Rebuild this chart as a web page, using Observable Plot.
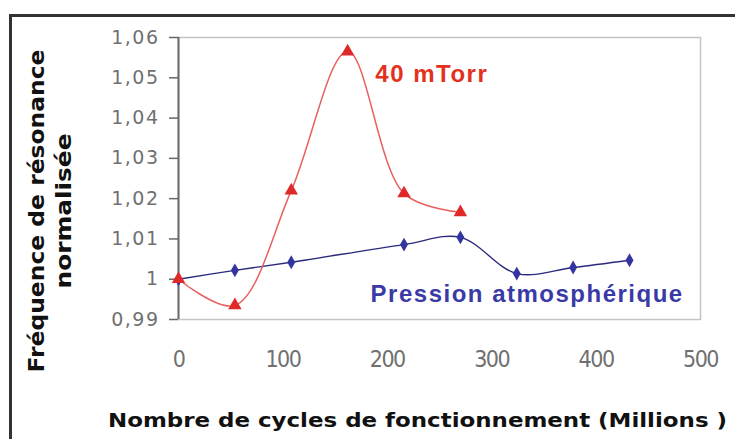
<!DOCTYPE html>
<html><head><meta charset="utf-8">
<script src="https://cdn.jsdelivr.net/npm/d3@7"></script>
<script src="https://cdn.jsdelivr.net/npm/@observablehq/plot@0.6"></script>
<style>
body{margin:0;background:#fff;}
#wrap{position:relative;width:735px;height:439px;overflow:hidden;}
#frame{position:absolute;left:9px;top:14px;width:760px;height:460px;border-top:3px solid #333;border-left:3px solid #333;pointer-events:none;}
#chart svg{display:block;}
g[aria-label="y-axis tick label"] text{letter-spacing:1.5px;}
g[aria-label="x-axis tick label"] text{letter-spacing:-1.5px;}
</style></head><body><div id="wrap"><div id="chart"></div><div id="frame"></div></div>
<script>
// Data (millions of cycles vs normalised resonance frequency)
const torrX = [0, 54, 108, 162, 216, 270];
const torrY = [1.000, 0.9935, 1.022, 1.0565, 1.0213, 1.0166];
const atmX = [0, 54, 108, 216, 270, 324, 378, 432];
const atmY = [1.000, 1.0022, 1.0042, 1.0086, 1.0104, 1.0014, 1.0029, 1.0047];
const xTicks = [0, 100, 200, 300, 400, 500];
const yTicks = [0.99, 1.00, 1.01, 1.02, 1.03, 1.04, 1.05, 1.06];
const seriesNames = ["40 mTorr", "Pression atmosphérique"];
const labelX = [188.5, 184];
const labelY = [1.0508, 0.9962];
const seriesColors = ["#e2321e", "#3a3aa6"];
const xTitle = "Nombre de cycles de fonctionnement (Millions )";
const yTitle = ["Fréquence de résonance", "normalisée"];

const torr = torrX.map((x, i) => ({x, y: torrY[i]}));
const atm = atmX.map((x, i) => ({x, y: atmY[i]}));
const labels = seriesNames.map((t, i) => ({t, x: labelX[i], y: labelY[i], c: seriesColors[i]}));
const fmtY = d => String(+d.toFixed(2)).replace(".", ",");

const plot = Plot.plot({
  width: 735, height: 439,
  marginLeft: 178, marginRight: 35, marginTop: 37, marginBottom: 120,
  style: {background: "transparent", fontFamily: "Liberation Sans, Arial, sans-serif"},
  x: {domain: [0, 500]},
  y: {domain: [0.99, 1.06]},
  marks: [
    Plot.frame({stroke: "#c4c4c4", strokeWidth: 1.5}),
    Plot.axisX({ticks: xTicks, tickSize: 0, tickPadding: 31, label: null, tickFormat: d => String(d),
      fontSize: 23, fontFamily: "Liberation Sans Narrow, DejaVu Sans Condensed, sans-serif", fill: "#707070"}),
    Plot.axisY({ticks: yTicks, tickSize: 9, tickPadding: 10, label: null, tickFormat: fmtY,
      fontSize: 19, fontFamily: "DejaVu Sans, sans-serif", fill: "#707070", stroke: "#666", strokeWidth: 1.5}),
    Plot.ruleX([0], {stroke: "#6a6a6a", strokeWidth: 2}),
    Plot.line(atm, {x: "x", y: "y", curve: "catmull-rom", stroke: "#2a2a7c", strokeWidth: 1.4}),
    Plot.dot(atm, {x: "x", y: "y", symbol: "diamond", r: 4.2, fill: "#3434a0"}),
    Plot.line(torr, {x: "x", y: "y", curve: "catmull-rom", stroke: "#e86060", strokeWidth: 1.5}),
    Plot.dot(torr, {x: "x", y: "y", symbol: "triangle", r: 5, fill: "#e02a2a"}),
    Plot.text(labels, {x: "x", y: "y", text: "t", fill: "c", textAnchor: "start", fontSize: 24,
      fontWeight: "bold", fontFamily: "Liberation Sans, Arial, sans-serif"})
  ]
});
document.getElementById("chart").appendChild(plot);

const svg = d3.select(plot);
svg.selectAll('g[aria-label="text"] text').style("letter-spacing", "1.5px");
const titleFont = "DejaVu Sans, Verdana, sans-serif";
svg.append("text")
  .attr("x", 108).attr("y", 427)
  .attr("text-anchor", "start")
  .attr("font-family", titleFont)
  .attr("font-weight", "bold").attr("font-size", 20)
  .attr("textLength", 619).attr("lengthAdjust", "spacingAndGlyphs")
  .attr("fill", "#111")
  .text(xTitle);
const yLens = [323, 155];
yTitle.forEach((t, i) => {
  svg.append("text")
    .attr("transform", `translate(${i === 0 ? 44 : 71},${211 + yLens[i] / 2}) rotate(-90)`)
    .attr("text-anchor", "start")
    .attr("font-family", titleFont)
    .attr("font-weight", "bold").attr("font-size", 21)
    .attr("textLength", yLens[i]).attr("lengthAdjust", "spacingAndGlyphs")
    .attr("fill", "#111")
    .text(t);
});
</script></body></html>
